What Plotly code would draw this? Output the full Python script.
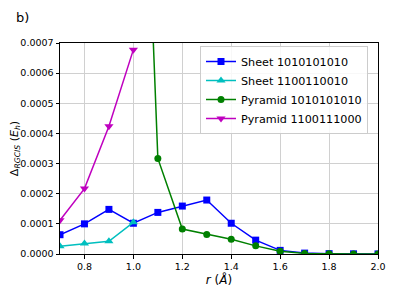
import plotly.graph_objects as go

r_all = [0.7, 0.8, 0.9, 1.0, 1.1, 1.2, 1.3, 1.4, 1.5, 1.6, 1.7, 1.8, 1.9, 2.0]
sheet_1010 = [0.000064, 0.000100, 0.000148, 0.000102, 0.000138, 0.000159, 0.000179,
              0.000102, 0.000046, 0.000012, 0.000003, 0.0000012, 0.0000006, 0.0000003]

r_sheet_1100 = [0.7, 0.8, 0.9, 1.0]
sheet_1100 = [0.000026, 0.000035, 0.000042, 0.000105]

r_pyr_1010 = [1.0, 1.1, 1.2, 1.3, 1.4, 1.5, 1.6, 1.7, 1.8, 1.9, 2.0]
pyr_1010 = [0.0024, 0.000317, 0.000083, 0.000065, 0.000049, 0.000027, 0.000009,
            0.000002, 0.0000005, 0.0000002, 0.0000001]

r_pyr_1100 = [0.7, 0.8, 0.9, 1.0]
pyr_1100 = [0.000112, 0.000217, 0.000424, 0.000678]

x_ticks = [0.8, 1.0, 1.2, 1.4, 1.6, 1.8, 2.0]
y_ticks = [0.0, 0.0001, 0.0002, 0.0003, 0.0004, 0.0005, 0.0006, 0.0007]

FONT = "DejaVu Sans"

# page body has an 8px default margin; size the figure to fit the window after it
W, H = 386, 288
L, R, T, B = 52, 16, 35, 42
PW, PH = W - L - R, H - T - B

fig = go.Figure()
fig.add_trace(go.Scatter(x=r_all, y=sheet_1010, mode="lines+markers", name="Sheet 1010101010",
                         line=dict(color="#0000ff", width=1.5),
                         marker=dict(symbol="square", size=7, color="#0000ff")))
fig.add_trace(go.Scatter(x=r_sheet_1100, y=sheet_1100, mode="lines+markers", name="Sheet 1100110010",
                         line=dict(color="#00bfbf", width=1.5),
                         marker=dict(symbol="triangle-up", size=8, color="#00bfbf")))
fig.add_trace(go.Scatter(x=r_pyr_1010, y=pyr_1010, mode="lines+markers", name="Pyramid 1010101010",
                         line=dict(color="#008000", width=1.5),
                         marker=dict(symbol="circle", size=7, color="#008000")))
fig.add_trace(go.Scatter(x=r_pyr_1100, y=pyr_1100, mode="lines+markers", name="Pyramid 1100111000",
                         line=dict(color="#bf00bf", width=1.5),
                         marker=dict(symbol="triangle-down", size=8, color="#bf00bf")))

fig.update_layout(
    width=W, height=H,
    margin=dict(l=L, r=R, t=T, b=B, autoexpand=False),
    paper_bgcolor="white", plot_bgcolor="white",
    font=dict(family=FONT, size=9.5, color="black"),
    showlegend=True,
    legend=dict(x=(192 - L) / PW, y=(T + PH - 38) / PH, xanchor="left", yanchor="top",
                bgcolor="rgba(255,255,255,0.85)", bordercolor="#cccccc", borderwidth=1,
                font=dict(family=FONT, size=11.2), tracegroupgap=0, itemwidth=30),
    annotations=[dict(text="b)", xref="paper", yref="paper", x=(14 - L) / PW, y=(T + PH - 9) / PH,
                      xanchor="center", yanchor="middle", showarrow=False,
                      font=dict(family=FONT, size=13))],
)

fig.update_xaxes(range=[0.7, 2.0], tickvals=x_ticks, ticktext=[f"{v:.1f}" for v in x_ticks],
                 showgrid=True, gridcolor="#d0d0d0", gridwidth=1,
                 showline=True, linecolor="black", linewidth=1, mirror=True,
                 ticks="outside", ticklen=3.5, tickcolor="black", zeroline=False, automargin=False,
                 title=dict(text="<i>r</i> (<i>Å</i>)", font=dict(family=FONT, size=12), standoff=2))
fig.update_yaxes(range=[0.0, 0.0007], tickvals=y_ticks, ticktext=[f"{v:.4f}" for v in y_ticks],
                 showgrid=True, gridcolor="#d0d0d0", gridwidth=1,
                 showline=True, linecolor="black", linewidth=1, mirror=True,
                 ticks="outside", ticklen=3.5, tickcolor="black", zeroline=False, automargin=False,
                 title=dict(text="Δ<sub><i>RGCIS</i></sub> (<i>E<sub>h</sub></i>)",
                            font=dict(family=FONT, size=11), standoff=0))

fig.write_html("out.html")
